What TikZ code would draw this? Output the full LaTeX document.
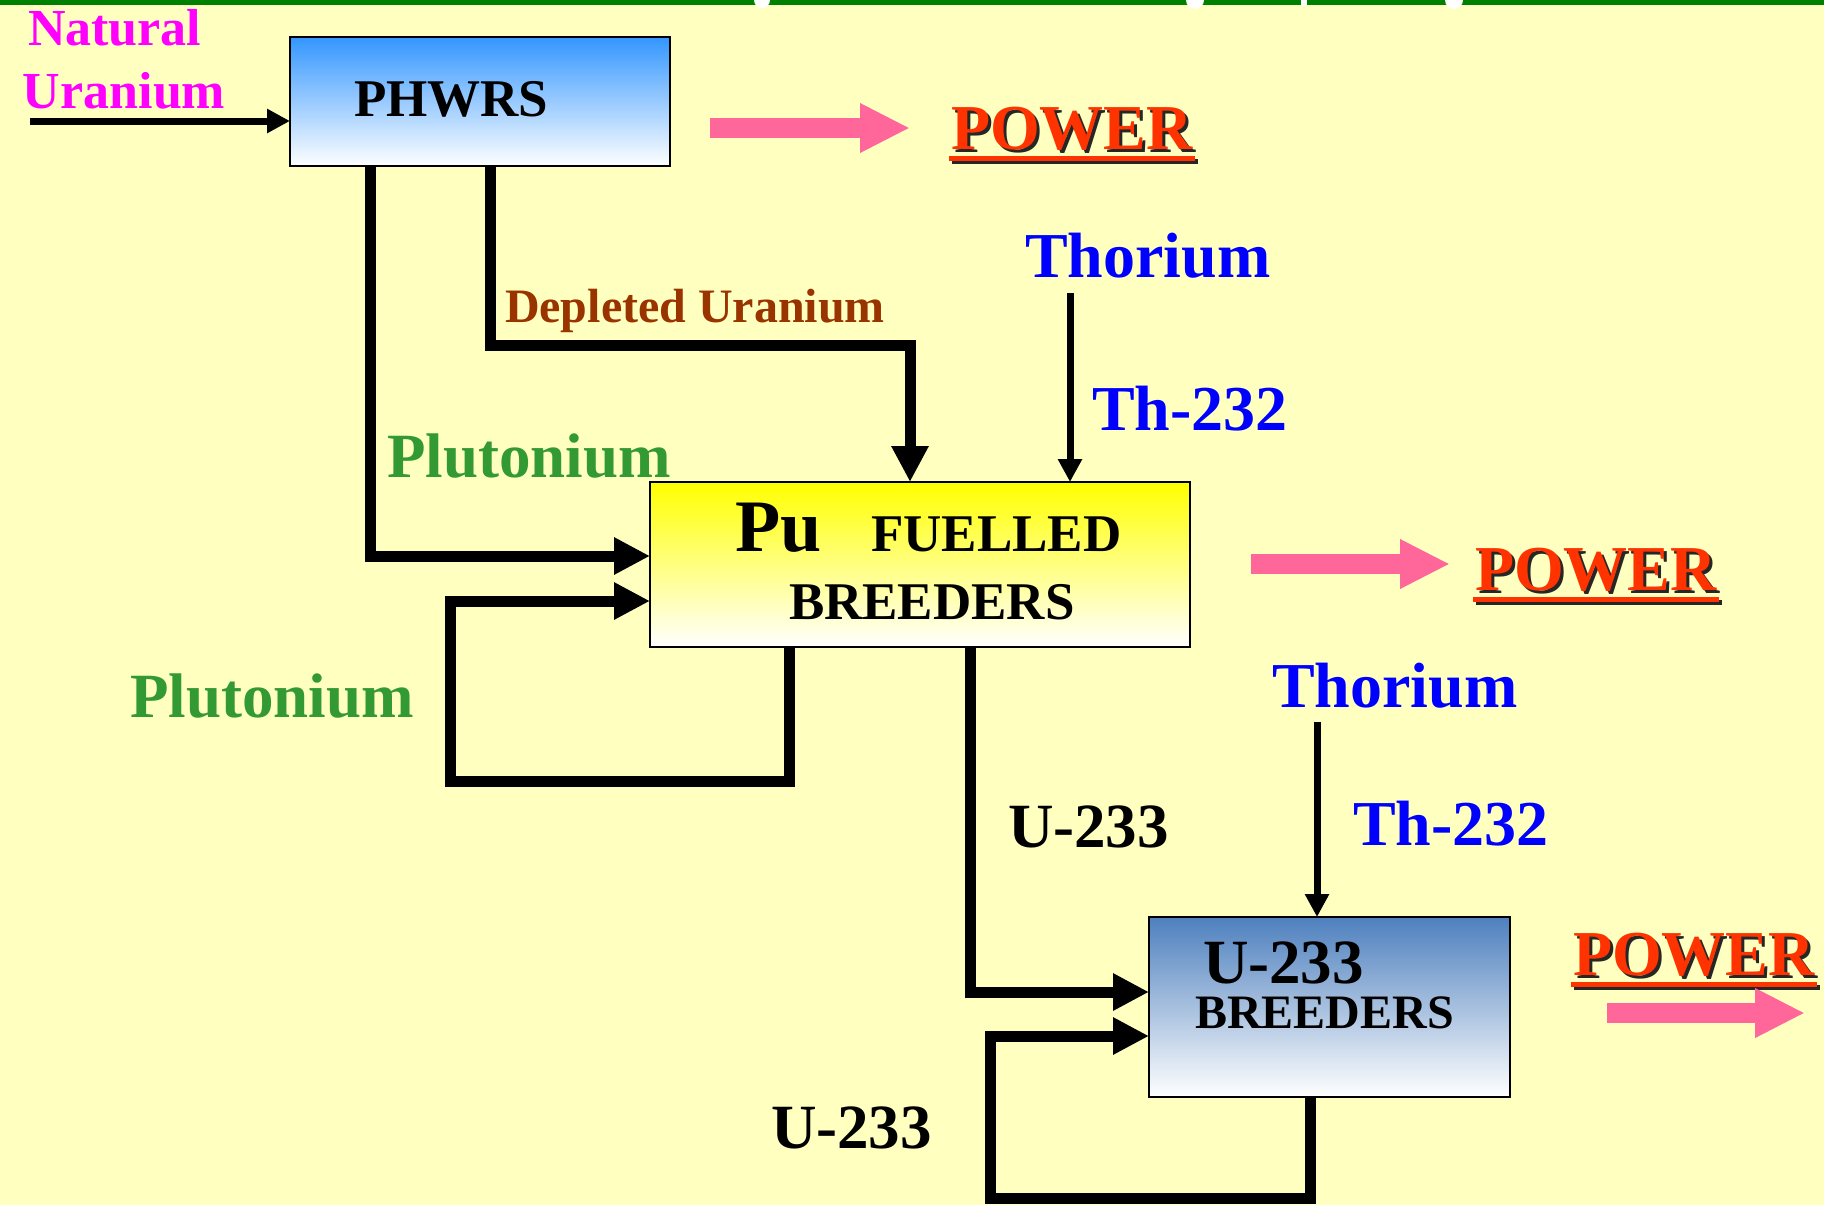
\documentclass[tikz,border=0pt]{standalone}
\usepackage{fontspec}
\setmainfont{Liberation Serif}
\usetikzlibrary{arrows.meta,calc}
\definecolor{bgyel}{RGB}{255,255,192}
\definecolor{topgreen}{RGB}{0,128,0}
\definecolor{natmag}{RGB}{255,0,255}
\definecolor{thblue}{RGB}{0,0,255}
\definecolor{pugreen}{RGB}{51,153,51}
\definecolor{depbrown}{RGB}{153,51,0}
\definecolor{pwred}{RGB}{255,51,0}
\definecolor{pinkarr}{RGB}{255,102,153}
\definecolor{phblue}{RGB}{51,150,255}
\definecolor{puyel}{RGB}{255,255,0}
\definecolor{u3blue}{RGB}{78,128,190}
\newcommand\fsz[1]{\bfseries\fontsize{#1}{#1}\selectfont}
\begin{document}
\begin{tikzpicture}[x=0.5pt,y=-0.5pt,
  box/.style={draw=black, line width=1pt, rectangle, inner sep=0pt, outer sep=0pt},
  lbl/.style={inner sep=0pt, outer sep=0pt, anchor=base west},
  fat/.style={line width=5.5pt, -{Triangle[length=18pt,width=17.5pt]}},
  slim/.style={line width=3.5pt, -{Triangle[length=11.5pt,width=11.5pt]}},
  pinkarrow/.style={draw=pinkarr, line width=10pt, -{Triangle[length=25pt,width=23pt]}},
  pwshadow/.style={lbl, font=\fsz{32}, text=black!85},
  pwtext/.style={lbl, font=\fsz{32}, text=pwred}
]
\useasboundingbox (0,0) rectangle (1824,1205);
\fill[bgyel] (0,0) rectangle (1824,1205);
% top bar
\fill[topgreen] (0,0) rectangle (1824,5);
\fill[white] (762,0) circle[radius=4pt];
\fill[white] (1195,0) circle[radius=4.5pt];
\fill[white] (1301,0) rectangle (1307,6);
\fill[white] (1454,0) circle[radius=4.5pt];

% boxes
\node[box, top color=phblue, bottom color=white, minimum width=190pt, minimum height=64.5pt] (phwr) at (480,101.5) {};
\node[box, top color=puyel, bottom color=white, minimum width=270pt, minimum height=82.5pt] (pu) at (920,564.5) {};
\node[box, top color=u3blue, bottom color=white, minimum width=180.5pt, minimum height=90pt] (u3) at (1329.5,1007) {};

% box texts
\node[lbl, font=\fsz{26.5}] (phwrt) at (354,116) {PHWRS};
\node[lbl, font=\fsz{37}] (put) at (735,551) {Pu};
\node[lbl, font=\fsz{26.5}] (fuelt) at (871,551) {FUELLED};
\node[lbl, font=\fsz{26.5}] (breed1) at (789,619) {BREEDERS};
\node[lbl, font=\fsz{31.5}, text depth=0pt] (u3t) at (1203,983) {U-233};
\node[lbl, font=\fsz{24}] (breed2) at (1195,1028) {BREEDERS};

% labels
\node[lbl, font=\fsz{26}, text=natmag] (nat) at (28,45) {Natural};
\node[lbl, font=\fsz{26}, text=natmag] (uran) at (23,108) {Uranium};
\node[lbl, font=\fsz{24}, text=depbrown] (dep) at (505,322) {Depleted Uranium};
\node[lbl, font=\fsz{31.5}, text=pugreen] (plu1) at (387,477) {Plutonium};
\node[lbl, font=\fsz{31.5}, text=pugreen] (plu2) at (130,717) {Plutonium};
\node[lbl, font=\fsz{32}, text=thblue] (thor1) at (1025,277) {Thorium};
\node[lbl, font=\fsz{32}, text=thblue] (th1) at (1092,430) {Th-232};
\node[lbl, font=\fsz{32}, text=thblue] (thor2) at (1272,707) {Thorium};
\node[lbl, font=\fsz{32}, text=thblue] (th2) at (1353,845) {Th-232};
\node[lbl, font=\fsz{31.5}] (u233a) at (1008,847) {U-233};
\node[lbl, font=\fsz{31.5}] (u233b) at (771,1148) {U-233};

% POWER labels with shadow and underline
\node[pwshadow] (pw1s) at (954,152) {POWER};
\node[pwtext] (pw1) at (951,149) {POWER};
\node[pwshadow] (pw2s) at (1478,593) {POWER};
\node[pwtext] (pw2) at (1475,590) {POWER};
\node[pwshadow] (pw3s) at (1576,978) {POWER};
\node[pwtext] (pw3) at (1573,975) {POWER};
\foreach \p in {pw1,pw2,pw3}{
  \fill[black!85] ($(\p.base west)+(1,10)$) rectangle ($(\p.base east)+(5,15)$);
  \fill[pwred] ($(\p.base west)+(-2,7)$) rectangle ($(\p.base east)+(2,12)$);
}

% pink arrows
\coordinate (pa1s) at (710,128); \coordinate (pa1e) at (910,128);
\coordinate (pa2s) at (1251,564); \coordinate (pa2e) at (1450,564);
\coordinate (pa3s) at (1607,1013); \coordinate (pa3e) at (1805,1013);
\draw[pinkarrow] (pa1s) -- (pa1e);
\draw[pinkarrow] (pa2s) -- (pa2e);
\draw[pinkarrow] (pa3s) -- (pa3e);

% thin arrows
\coordinate (nats) at (30,121);
\draw[slim] (nats) -- (nats -| phwr.west);
\coordinate (th1s) at (1070,293);
\draw[slim] (th1s) -- (th1s |- pu.north);
\coordinate (th2s) at (1317,722);
\draw[slim] (th2s) -- (th2s |- u3.north);

% thick connectors
\draw[fat] ($(phwr.south west)+(200,0)$) -- ++(0,179) -| ($(pu.north west)+(260,0)$);
\draw[fat] ($(phwr.south west)+(80,0)$) |- ($(pu.north west)+(0,74)$);
\draw[fat] ($(pu.south west)+(139,0)$) -- ++(0,134) -| ++(-339,-180) -- ($(pu.north west)+(0,119)$);
\draw[fat] ($(pu.south west)+(320,0)$) |- ($(u3.north west)+(0,75)$);
\draw[fat] ($(u3.south west)+(161,0)$) -- ++(0,101) -| ++(-320,-162) -- ($(u3.north west)+(0,119)$);
\end{tikzpicture}
\end{document}
